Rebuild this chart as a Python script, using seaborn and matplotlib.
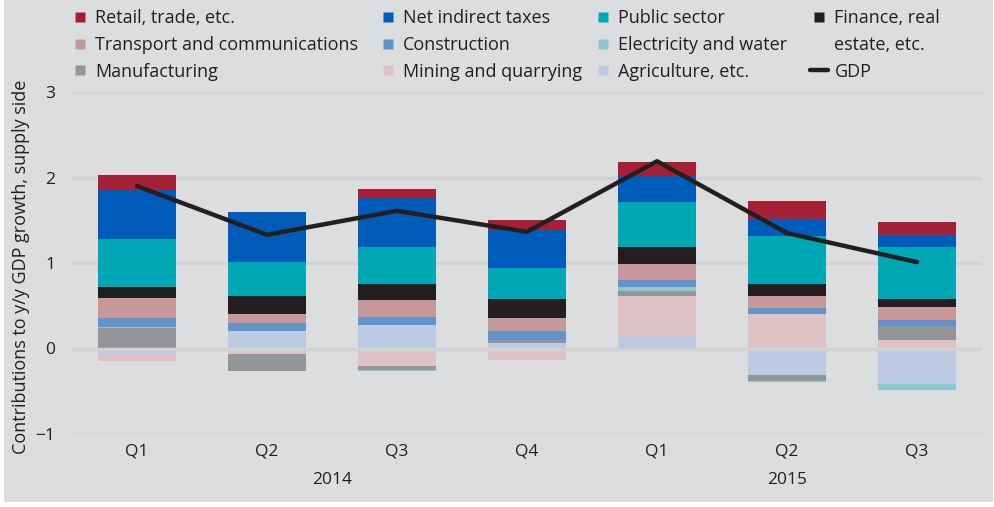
import numpy as np
import pandas as pd
import matplotlib
matplotlib.use("Agg")
import matplotlib.pyplot as plt
from matplotlib.lines import Line2D
from matplotlib.patches import Rectangle
import seaborn as sns

quarters = ["Q1", "Q2", "Q3", "Q4", "Q1", "Q2", "Q3"]
years = ["2014", "2014", "2014", "2014", "2015", "2015", "2015"]

# contributions by sector (stacking order from the zero line outwards)
agriculture = [-0.06, 0.21, 0.28, 0.06, 0.15, -0.31, -0.42]
mining = [-0.09, -0.07, -0.21, -0.14, 0.46, 0.40, 0.105]
manufacturing = [0.24, -0.19, -0.04, 0.035, 0.058, -0.07, 0.163]
electricity = [0.01, 0.0, -0.015, 0.0, 0.047, -0.01, -0.07]
construction = [0.11, 0.093, 0.093, 0.105, 0.081, 0.07, 0.07]
transport = [0.233, 0.105, 0.20, 0.152, 0.198, 0.14, 0.15]
finance = [0.13, 0.21, 0.187, 0.222, 0.198, 0.14, 0.093]
public = [0.56, 0.39, 0.432, 0.373, 0.517, 0.57, 0.606]
net_taxes = [0.57, 0.584, 0.564, 0.436, 0.31, 0.20, 0.144]
retail = [0.18, 0.01, 0.113, 0.125, 0.164, 0.206, 0.147]
gdp = [1.90, 1.33, 1.61, 1.365, 2.19, 1.35, 1.01]

sectors = ["Agriculture, etc.", "Mining and quarrying", "Manufacturing",
           "Electricity and water", "Construction", "Transport and communications",
           "Finance, real estate, etc.", "Public sector", "Net indirect taxes",
           "Retail, trade, etc."]
values = [agriculture, mining, manufacturing, electricity, construction,
          transport, finance, public, net_taxes, retail]
colors = ["#BCCAE3", "#DEC2C5", "#939598", "#8DC8D1", "#6193CC",
          "#C8979A", "#231F20", "#00A7B5", "#005BBB", "#A51F35"]

sns.set_theme(style="white")
plt.rcParams["font.family"] = ["Open Sans", "DejaVu Sans"]
bg = "#DCDDDF"
grid = "#D1D2D4"
txt = "#231F20"
fs = 12.5
lfs = 13

fig = plt.figure(figsize=(9.94, 5.07), dpi=100, facecolor="white")
fig.patches.append(Rectangle((4 / 994, 5 / 507), 989 / 994, 502 / 507,
                             transform=fig.transFigure, facecolor=bg,
                             edgecolor="none", zorder=-10))
ax = fig.add_axes([72 / 994, 1 - 434 / 507, 910 / 994, 342 / 507])
ax.set_facecolor(bg)

x = np.arange(len(quarters))
pos = np.zeros(len(x))
neg = np.zeros(len(x))
for name, vals, c in zip(sectors, values, colors):
    v = np.array(vals)
    base = np.where(v >= 0, pos, neg)
    ax.bar(x, v, bottom=base, width=0.6, color=c, linewidth=0, zorder=2)
    pos = np.where(v >= 0, pos + v, pos)
    neg = np.where(v < 0, neg + v, neg)

df = pd.DataFrame({"x": x, "gdp": gdp})
sns.lineplot(data=df, x="x", y="gdp", color=txt, lw=3.2, ax=ax, zorder=4)

ax.set_xlim(-0.5, 6.5)
ax.set_ylim(-1, 3)
ax.set_yticks([-1, 0, 1, 2, 3])
ax.set_yticklabels(["\u22121", "0", "1", "2", "3"])
ax.set_xticks(x)
ax.set_xticklabels(quarters)
ax.tick_params(length=0, labelsize=fs, colors=txt)
ax.tick_params(axis="x", pad=7)
ax.tick_params(axis="y", pad=12)
for yv in [-1, 1, 2, 3]:
    ax.axhline(yv, color=grid, lw=2.2, zorder=1)
ax.axhline(0, color=grid, lw=2.5, zorder=3)
for s in ax.spines.values():
    s.set_visible(False)
ax.set_xlabel("")
ax.set_ylabel("Contributions to y/y GDP growth, supply side", fontsize=lfs,
              color=txt)
ax.yaxis.set_label_coords(-0.046, 0.49)

for yr in ["2014", "2015"]:
    xs = [xi for xi, y in zip(x, years) if y == yr]
    ax.text(np.mean(xs), -0.135, yr, transform=ax.get_xaxis_transform(),
            ha="center", va="center", fontsize=fs, color=txt)

# legend: four columns placed by hand
columns = [["Retail, trade, etc.", "Transport and communications", "Manufacturing"],
           ["Net indirect taxes", "Construction", "Mining and quarrying"],
           ["Public sector", "Electricity and water", "Agriculture, etc."],
           ["Finance, real", "estate, etc.", "GDP"]]
col_x = [71, 379, 594, 810]
for labs, cx in zip(columns, col_x):
    handles = []
    for lab in labs:
        if lab == "GDP":
            h = Line2D([], [], color=txt, lw=3.2)
        elif lab == "estate, etc.":
            h = Line2D([], [], ls="none")
        else:
            key = "Finance, real estate, etc." if lab == "Finance, real" else lab
            c = colors[sectors.index(key)]
            h = Line2D([], [], marker="s", ls="none", markersize=7,
                       markerfacecolor=c, markeredgecolor="none")
        handles.append(h)
    leg = fig.legend(handles, labs, loc="upper left",
                     bbox_to_anchor=(cx / 994, 1 - 9 / 507), frameon=False,
                     fontsize=lfs, handlelength=1.0, handletextpad=0.35,
                     labelspacing=0.49, borderaxespad=0, borderpad=0)
    for t in leg.get_texts():
        t.set_color(txt)

fig.savefig("out.png", dpi=100, facecolor="white")
